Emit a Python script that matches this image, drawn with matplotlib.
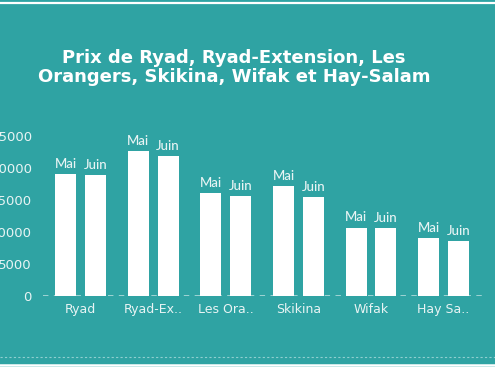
import matplotlib
matplotlib.use("Agg")
import matplotlib.pyplot as plt
from matplotlib.lines import Line2D
import numpy as np

# data
quartiers = ["Ryad", "Ryad-Ex..", "Les Ora..", "Skikina", "Wifak", "Hay Sa.."]
prix_mai = [19000, 22700, 16100, 17200, 10700, 9100]
prix_juin = [18900, 21900, 15600, 15500, 10600, 8550]
yticks = [0, 5000, 10000, 15000, 20000, 25000]

bg = "#2fa3a3"
white = "white"
label_col = "#e8f4f4"

fig = plt.figure(figsize=(4.95, 3.67), dpi=100, facecolor=bg)
ax = fig.add_axes([0.0869, 0.1935, 0.897, 0.4445])
ax.set_facecolor(bg)

x = np.arange(len(quartiers))
w = 0.29
off = 0.205
b1 = ax.bar(x - off, prix_mai, w, color=white, zorder=3)
b2 = ax.bar(x + off, prix_juin, w, color=white, zorder=3)

# month names above each bar
for bars, name in [(b1, "Mai"), (b2, "Juin")]:
    for b in bars:
        ax.annotate(name, (b.get_x() + b.get_width() / 2, b.get_height()),
                    xytext=(0, 3), textcoords="offset points",
                    ha="center", va="bottom", color=label_col, fontsize=9.5,
                    family="Lato", fontweight="medium")

ax.set_xlim(-0.52, 5.6)
ax.set_ylim(0, 25500)
ax.set_xticks(x)
ax.set_xticklabels(quartiers, color=label_col, fontsize=9)
ax.set_yticks(yticks)
ax.set_yticklabels([str(v) for v in yticks], color=label_col, fontsize=9.5)
ax.tick_params(length=0, axis="y", pad=8)
ax.tick_params(length=0, axis="x", pad=5)
for s in ax.spines.values():
    s.set_visible(False)
ax.axhline(0, color="#a8d8d8", lw=1.3, ls=(0, (3, 3)), zorder=2)

fig.text(0.473, 0.817, "Prix de Ryad, Ryad-Extension, Les\nOrangers, Skikina, Wifak et Hay-Salam",
         ha="center", va="center", color=white, fontsize=13, fontweight="bold",
         linespacing=1.05)

# decorative frame lines
fig.add_artist(Line2D([0, 1], [1 - 2.5 / 367] * 2, color=white, lw=1.6, transform=fig.transFigure))
fig.add_artist(Line2D([0, 1], [1 - 357 / 367] * 2, color="#8fcfcf", lw=0.8, ls=(0, (2, 2)),
                      transform=fig.transFigure))
fig.add_artist(Line2D([0, 1], [1 - 364.5 / 367] * 2, color=white, lw=1.8, transform=fig.transFigure))

fig.savefig("out.png", dpi=100, facecolor=bg)
